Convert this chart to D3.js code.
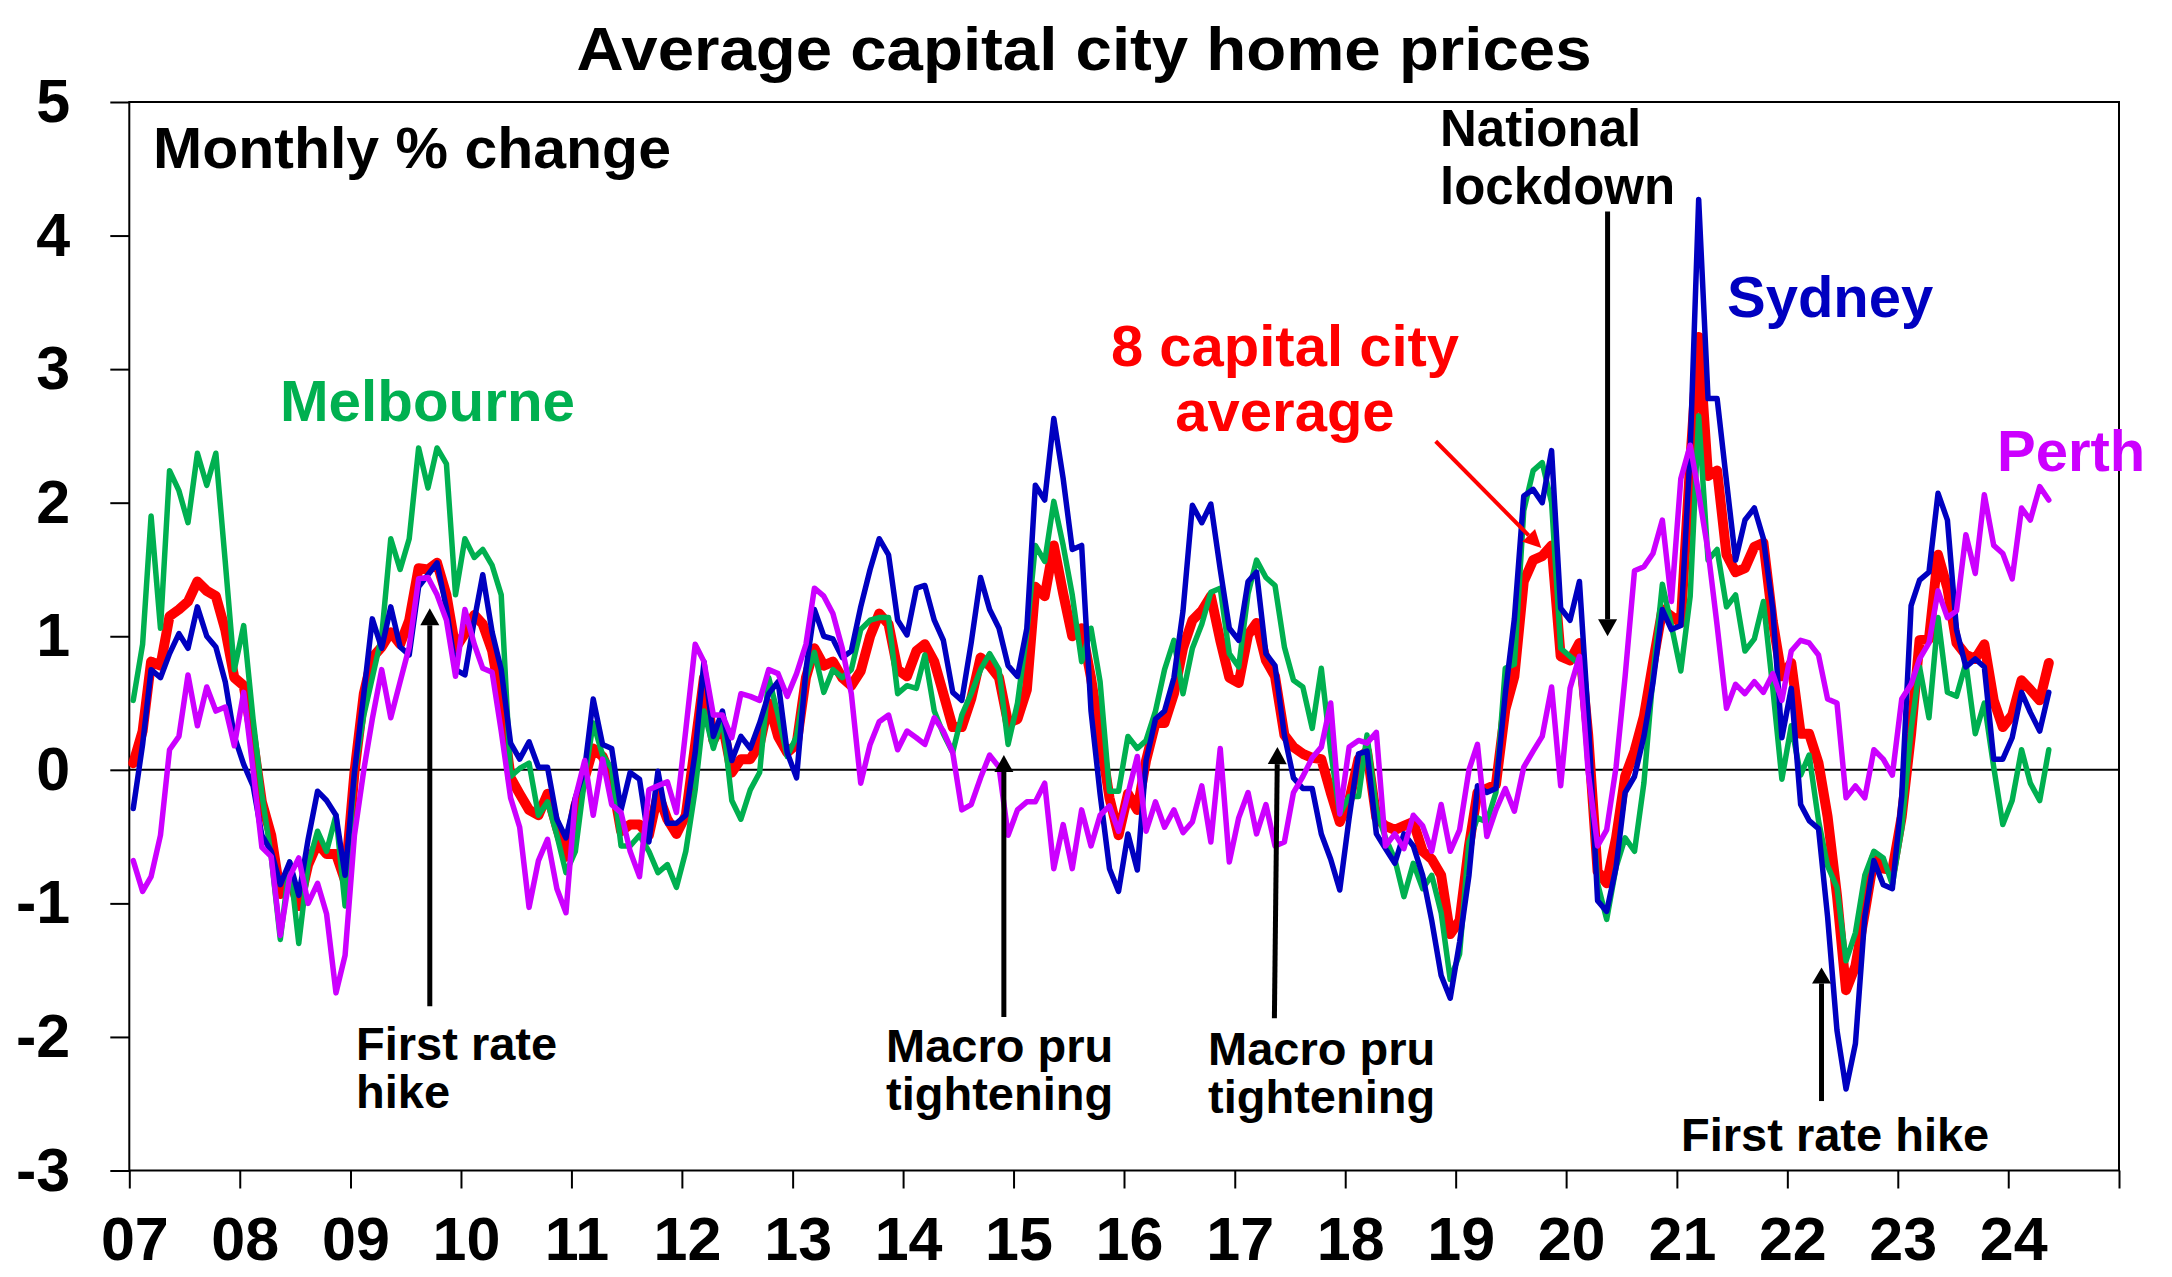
<!DOCTYPE html>
<html>
<head>
<meta charset="utf-8">
<script src="https://cdn.jsdelivr.net/npm/d3@7"></script>
<style>
  body { margin: 0; background: #fff; }
  svg text { font-family: "Liberation Sans", Arial, sans-serif; font-weight: bold; }
</style>
</head>
<body>
<div id="viz"></div>
<script>
// monthly % change in home prices, Jan 2007 .. May 2024 (one row per year)
var startYear = 2007;

var sydney = [
  -0.29, 0.19, 0.75, 0.69, 0.87, 1.02, 0.91, 1.22, 1.00, 0.92, 0.66, 0.25,
  0.04, -0.12, -0.49, -0.61, -0.86, -0.69, -0.94, -0.52, -0.16, -0.23, -0.34, -0.79,
  -0.02, 0.57, 1.13, 0.91, 1.22, 0.92, 0.86, 1.37, 1.46, 1.55, 1.21, 0.75,
  0.71, 1.12, 1.46, 1.03, 0.75, 0.20, 0.08, 0.21, 0.02, 0.02, -0.37, -0.51,
  -0.21, 0.01, 0.53, 0.19, 0.16, -0.30, -0.02, -0.07, -0.54, -0.01, -0.40, -0.40,
  -0.34, 0.13, 0.81, 0.25, 0.44, 0.07, 0.25, 0.16, 0.35, 0.57, 0.66, 0.13,
  -0.06, 0.75, 1.20, 1.00, 0.98, 0.84, 0.89, 1.22, 1.50, 1.73, 1.61, 1.12,
  1.01, 1.36, 1.38, 1.12, 0.97, 0.58, 0.52, 0.95, 1.44, 1.20, 1.06, 0.78,
  0.70, 1.06, 2.13, 2.02, 2.63, 2.18, 1.65, 1.68, 0.44, -0.18, -0.74, -0.91,
  -0.48, -0.75, 0.07, 0.38, 0.44, 0.69, 1.19, 1.98, 1.85, 1.99, 1.50, 1.06,
  0.97, 1.41, 1.48, 0.87, 0.78, 0.26, -0.06, -0.14, -0.14, -0.48, -0.67, -0.90,
  -0.36, 0.12, 0.14, -0.48, -0.59, -0.70, -0.48, -0.57, -0.79, -1.13, -1.54, -1.71,
  -1.29, -0.79, -0.12, -0.17, -0.14, 0.57, 1.13, 2.05, 2.10, 2.00, 2.39, 1.21,
  1.12, 1.41, 0.39, -0.98, -1.06, -0.73, -0.17, -0.05, 0.25, 0.65, 1.20, 1.05,
  1.08, 2.39, 4.27, 2.78, 2.78, 2.16, 1.57, 1.87, 1.96, 1.73, 1.20, 0.24,
  0.61, -0.26, -0.38, -0.44, -1.10, -1.95, -2.39, -2.05, -1.10, -0.68, -0.86, -0.89,
  -0.20, 1.23, 1.42, 1.48, 2.07, 1.87, 1.05, 0.77, 0.83, 0.77, 0.08, 0.08,
  0.24, 0.58, 0.43, 0.29, 0.58
];

var melbourne = [
  0.52, 0.94, 1.90, 1.06, 2.24, 2.09, 1.85, 2.37, 2.13, 2.37, 1.56, 0.75,
  1.08, 0.38, -0.18, -0.65, -1.27, -0.69, -1.30, -0.71, -0.46, -0.61, -0.34, -1.02,
  -0.02, 0.41, 0.69, 1.00, 1.73, 1.50, 1.73, 2.41, 2.11, 2.41, 2.29, 1.31,
  1.73, 1.59, 1.65, 1.53, 1.31, -0.05, 0.01, 0.05, -0.34, -0.24, -0.49, -0.77,
  -0.61, -0.06, 0.35, 0.11, 0.01, -0.57, -0.57, -0.49, -0.61, -0.77, -0.71, -0.88,
  -0.61, -0.15, 0.44, 0.16, 0.39, -0.23, -0.37, -0.15, -0.02, 0.69, 0.41, 0.10,
  0.25, 0.69, 0.88, 0.58, 0.75, 0.69, 0.75, 1.05, 1.12, 1.14, 1.14, 0.57,
  0.63, 0.61, 0.86, 0.44, 0.27, 0.13, 0.41, 0.57, 0.75, 0.87, 0.75, 0.19,
  0.50, 1.03, 1.68, 1.56, 2.01, 1.68, 1.31, 0.81, 1.06, 0.66, -0.16, -0.16,
  0.25, 0.16, 0.22, 0.44, 0.75, 0.97, 0.57, 0.91, 1.09, 1.33, 1.36, 0.87,
  0.77, 1.32, 1.57, 1.44, 1.38, 0.92, 0.67, 0.62, 0.31, 0.76, 0.14, -0.33,
  -0.20, -0.20, 0.26, -0.30, -0.51, -0.67, -0.95, -0.70, -0.89, -0.79, -1.07, -1.57,
  -1.38, -0.54, -0.36, -0.39, -0.17, 0.76, 0.79, 1.94, 2.24, 2.30, 2.00, 0.91,
  0.85, 0.79, 0.14, -0.85, -1.12, -0.73, -0.51, -0.61, -0.10, 0.70, 1.39, 1.08,
  0.74, 1.30, 2.65, 1.57, 1.65, 1.22, 1.31, 0.89, 0.98, 1.26, 0.61, -0.07,
  0.33, -0.04, 0.11, -0.38, -0.72, -0.88, -1.43, -1.22, -0.79, -0.61, -0.66, -0.86,
  -0.44, 0.30, 0.77, 0.39, 1.14, 0.58, 0.55, 0.80, 0.27, 0.50, 0.02, -0.41,
  -0.23, 0.15, -0.10, -0.23, 0.15
];

var perth = [
  -0.68, -0.91, -0.80, -0.49, 0.15, 0.25, 0.71, 0.33, 0.62, 0.44, 0.47, 0.18,
  0.58, 0.00, -0.58, -0.65, -1.24, -0.80, -0.66, -1.00, -0.85, -1.08, -1.67, -1.39,
  -0.49, 0.00, 0.38, 0.75, 0.39, 0.66, 0.92, 1.43, 1.44, 1.31, 1.12, 0.70,
  1.20, 0.94, 0.76, 0.73, 0.29, -0.21, -0.43, -1.03, -0.68, -0.52, -0.89, -1.07,
  -0.21, 0.07, -0.34, 0.08, -0.26, -0.32, -0.61, -0.80, -0.15, -0.12, -0.09, -0.32,
  0.30, 0.94, 0.81, 0.41, 0.41, 0.24, 0.57, 0.55, 0.52, 0.75, 0.72, 0.55,
  0.72, 0.94, 1.36, 1.30, 1.17, 0.91, 0.57, -0.10, 0.19, 0.36, 0.41, 0.15,
  0.29, 0.24, 0.19, 0.39, 0.29, 0.13, -0.30, -0.26, -0.06, 0.11, 0.02, -0.49,
  -0.30, -0.24, -0.24, -0.10, -0.74, -0.41, -0.74, -0.30, -0.57, -0.34, -0.27, -0.46,
  -0.18, 0.10, -0.46, -0.24, -0.43, -0.30, -0.47, -0.39, -0.12, -0.54, 0.16, -0.69,
  -0.36, -0.17, -0.48, -0.26, -0.57, -0.54, -0.17, -0.05, 0.09, 0.17, 0.50, -0.33,
  0.17, 0.22, 0.20, 0.28, -0.57, -0.48, -0.59, -0.34, -0.42, -0.61, -0.26, -0.61,
  -0.45, 0.00, 0.19, -0.50, -0.30, -0.14, -0.31, 0.02, 0.14, 0.25, 0.62, -0.12,
  0.61, 0.85, -0.02, -0.57, -0.45, 0.02, 0.70, 1.49, 1.52, 1.62, 1.87, 1.26,
  2.18, 2.43, 2.07, 1.64, 1.08, 0.46, 0.64, 0.57, 0.66, 0.58, 0.72, 0.52,
  0.89, 0.97, 0.95, 0.86, 0.53, 0.50, -0.21, -0.12, -0.21, 0.15, 0.08, -0.04,
  0.53, 0.64, 0.83, 0.95, 1.34, 1.14, 1.19, 1.76, 1.47, 2.06, 1.68, 1.62,
  1.43, 1.96, 1.87, 2.12, 2.02
];

var capitalAvg = [
  0.05, 0.29, 0.81, 0.78, 1.15, 1.20, 1.26, 1.41, 1.34, 1.30, 1.05, 0.69,
  0.63, 0.22, -0.24, -0.49, -0.93, -0.80, -1.02, -0.71, -0.55, -0.63, -0.63, -0.83,
  -0.02, 0.57, 0.84, 0.92, 1.03, 0.94, 1.12, 1.51, 1.50, 1.55, 1.31, 0.91,
  1.02, 1.16, 1.09, 0.89, 0.50, -0.06, -0.18, -0.30, -0.34, -0.18, -0.43, -0.65,
  -0.27, -0.06, 0.16, 0.10, -0.06, -0.46, -0.41, -0.41, -0.49, -0.18, -0.37, -0.48,
  -0.34, 0.19, 0.69, 0.22, 0.35, -0.02, 0.08, 0.08, 0.19, 0.50, 0.25, 0.13,
  0.19, 0.69, 0.91, 0.78, 0.81, 0.69, 0.63, 0.74, 1.00, 1.17, 1.09, 0.75,
  0.70, 0.89, 0.94, 0.81, 0.57, 0.32, 0.32, 0.53, 0.84, 0.78, 0.69, 0.35,
  0.38, 0.60, 1.37, 1.30, 1.68, 1.32, 1.00, 1.06, 0.69, 0.25, -0.21, -0.49,
  -0.18, -0.30, 0.07, 0.35, 0.35, 0.57, 0.91, 1.12, 1.19, 1.30, 0.97, 0.69,
  0.65, 1.01, 1.10, 0.82, 0.70, 0.26, 0.17, 0.12, 0.09, 0.08, -0.17, -0.39,
  -0.23, 0.08, 0.14, -0.36, -0.42, -0.45, -0.42, -0.39, -0.61, -0.67, -0.79, -1.23,
  -1.13, -0.57, -0.17, -0.14, -0.11, 0.45, 0.70, 1.41, 1.57, 1.60, 1.68, 0.85,
  0.82, 0.95, 0.26, -0.76, -0.85, -0.51, -0.05, 0.14, 0.40, 0.80, 1.20, 1.15,
  1.10, 2.30, 3.24, 2.20, 2.24, 1.61, 1.48, 1.51, 1.67, 1.70, 1.11, 0.70,
  0.80, 0.27, 0.27, 0.05, -0.35, -0.94, -1.65, -1.47, -1.07, -0.66, -0.74, -0.75,
  -0.35, 0.27, 0.97, 0.98, 1.61, 1.36, 0.95, 0.86, 0.83, 0.94, 0.52, 0.32,
  0.41, 0.67, 0.60, 0.52, 0.80
];

var yearLabels = ["07", "08", "09", "10", "11", "12", "13", "14", "15", "16", "17", "18", "19", "20", "21", "22", "23", "24"];
var yTicks = [-3, -2, -1, 0, 1, 2, 3, 4, 5];

var W = 2172, H = 1277;
var margin = { top: 102, right: 53, bottom: 106.5, left: 129.3 },
  width = W - margin.left - margin.right,
  height = H - margin.top - margin.bottom;

var svg = d3.select("#viz").append("svg")
  .attr("width", W)
  .attr("height", H);

svg.append("rect").attr("width", W).attr("height", H).attr("fill", "#fff");

var g = svg.append("g")
  .attr("transform", "translate(" + margin.left + "," + margin.top + ")");

var x = d3.scaleTime()
  .domain([new Date(startYear, 0, 1), new Date(2025, 0, 1)])
  .range([0, width]);
var y = d3.scaleLinear().domain([-3, 5]).range([height, 0]);

// each value sits mid-month
function monthDate(i) { return new Date(startYear, i, 14); }

// y axis (plain hyphen for negatives, like the original)
var yAxis = d3.axisLeft(y)
  .tickValues(yTicks)
  .tickFormat(function (d) { return String(d); })
  .tickSize(19).tickSizeOuter(0).tickPadding(40);
var ya = g.append("g").call(yAxis);
ya.select(".domain").remove();
ya.selectAll("line").attr("stroke", "#000").attr("stroke-width", 2);
ya.selectAll("text").style("font-size", "61px").attr("fill", "#000");

// x axis, a tick every January
var yearTicks = d3.range(startYear, 2026).map(function (yr) { return new Date(yr, 0, 1); });
var xAxis = d3.axisBottom(x)
  .tickValues(yearTicks)
  .tickFormat(function (d, i) { return i < yearLabels.length ? yearLabels[i] : ""; })
  .tickSize(18).tickSizeOuter(0).tickPadding(28);
var xa = g.append("g").attr("transform", "translate(0," + height + ")").call(xAxis);
xa.select(".domain").remove();
xa.selectAll("line").attr("stroke", "#000").attr("stroke-width", 2);
xa.selectAll("text").style("font-size", "61px").attr("fill", "#000").attr("dx", 5);

// plot frame + zero line
g.append("rect")
  .attr("width", width).attr("height", height)
  .attr("fill", "none").attr("stroke", "#000").attr("stroke-width", 2);
g.append("line")
  .attr("x1", 0).attr("x2", width)
  .attr("y1", y(0)).attr("y2", y(0))
  .attr("stroke", "#000").attr("stroke-width", 2);

var line = d3.line()
  .x(function (d, i) { return x(monthDate(i)); })
  .y(function (d) { return y(d); });

var series = [
  { values: capitalAvg, color: "#ff0000", w: 10 },
  { values: melbourne, color: "#00b050", w: 5.5 },
  { values: sydney, color: "#0000c0", w: 5.5 },
  { values: perth, color: "#cc00ff", w: 5.5 }
];

g.selectAll(".series")
  .data(series)
  .enter().append("path")
  .attr("class", "series")
  .attr("d", function (s) { return line(s.values); })
  .attr("fill", "none")
  .attr("stroke", function (s) { return s.color; })
  .attr("stroke-width", function (s) { return s.w; })
  .attr("stroke-linejoin", "round")
  .attr("stroke-linecap", "round");

// arrows, given in data units
function arrow(d1, v1, d2, v2, color, w, hw, hl) {
  var x1 = x(d1), y1 = y(v1), x2 = x(d2), y2 = y(v2);
  var ang = Math.atan2(y2 - y1, x2 - x1);
  var bx = x2 - hl * Math.cos(ang), by = y2 - hl * Math.sin(ang);
  var nx = -Math.sin(ang) * hw / 2, ny = Math.cos(ang) * hw / 2;
  g.append("line")
    .attr("x1", x1).attr("y1", y1).attr("x2", bx).attr("y2", by)
    .attr("stroke", color).attr("stroke-width", w);
  g.append("polygon")
    .attr("points", [[x2, y2], [bx + nx, by + ny], [bx - nx, by - ny]].join(" "))
    .attr("fill", color);
}

arrow(new Date(2009, 8, 20), -1.77, new Date(2009, 8, 20), 1.21, "#000", 5, 19, 17);
arrow(new Date(2014, 10, 30), -1.85, new Date(2014, 10, 30), 0.11, "#000", 5, 19, 17);
arrow(new Date(2017, 4, 12), -1.86, new Date(2017, 4, 22), 0.17, "#000", 5, 19, 17);
arrow(new Date(2020, 4, 17), 4.18, new Date(2020, 4, 17), 1.0, "#000", 5, 19, 17);
arrow(new Date(2022, 3, 24), -2.48, new Date(2022, 3, 24), -1.48, "#000", 5, 19, 16);
arrow(new Date(2018, 9, 27), 2.46, new Date(2019, 9, 11), 1.66, "#ff0000", 4, 18, 18);

// text labels; several lines go into one text as tspans
function note(lines, px, py, size, color, anchor, lineGap, len) {
  var t = svg.append("text")
    .attr("x", px).attr("y", py)
    .attr("text-anchor", anchor || "start")
    .attr("fill", color)
    .style("font-size", size + "px");
  [].concat(lines).forEach(function (s, i) {
    var sp = t.append("tspan").attr("x", px).attr("dy", i === 0 ? 0 : lineGap).text(s);
    if (len) sp.attr("textLength", len).attr("lengthAdjust", "spacingAndGlyphs");
  });
  return t;
}

note("Average capital city home prices", 1084, 70, 62, "#000", "middle", 0, 1015);
note("Monthly % change", 153, 168, 58, "#000", "start", 0, 518);
note("Melbourne", 280, 421, 58, "#00b050", "start", 0, 295);
note(["8 capital city", "average"], 1285, 366, 58, "#ff0000", "middle", 65);
note("Sydney", 1727, 317, 58, "#0000c0", "start");
note("Perth", 1997, 471, 58, "#cc00ff", "start");
note(["National", "lockdown"], 1440, 146, 51, "#000", "start", 58);
note(["First rate", "hike"], 356, 1060, 47, "#000", "start", 48);
note(["Macro pru", "tightening"], 886, 1062, 47, "#000", "start", 48);
note(["Macro pru", "tightening"], 1208, 1065, 47, "#000", "start", 48);
note("First rate hike", 1681, 1151, 47, "#000", "start");
</script>
</body>
</html>
